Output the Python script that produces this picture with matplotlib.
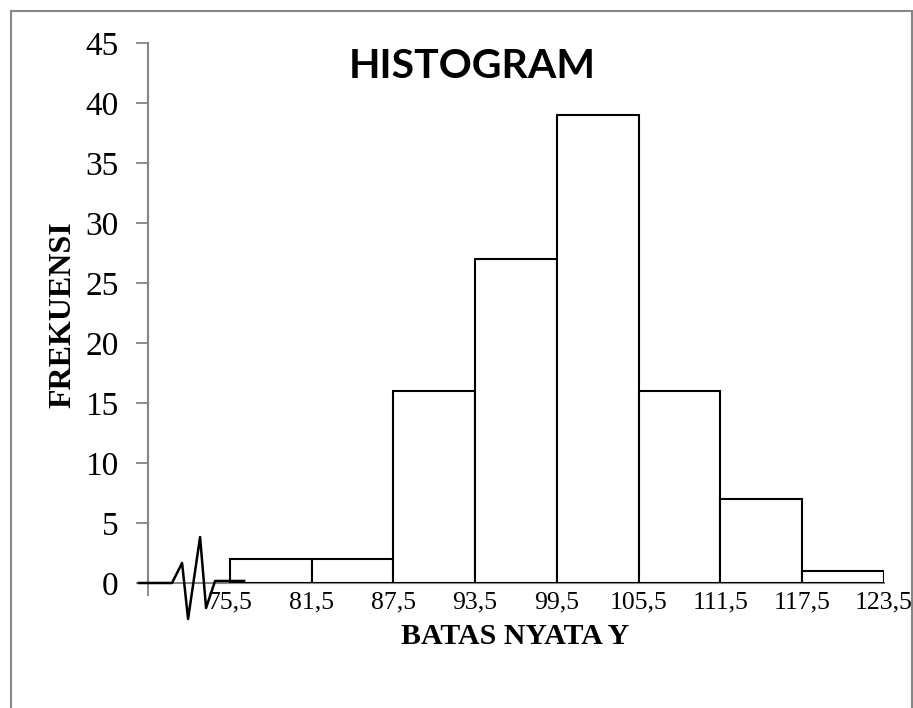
import matplotlib
matplotlib.use("Agg")
import matplotlib.pyplot as plt
from matplotlib.patches import Rectangle

# Data
bin_edges = [75.5, 81.5, 87.5, 93.5, 99.5, 105.5, 111.5, 117.5, 123.5]
frequencies = [2, 2, 16, 27, 39, 16, 7, 1]
edge_labels = ["75,5", "81,5", "87,5", "93,5", "99,5", "105,5", "111,5", "117,5", "123,5"]
y_ticks = [0, 5, 10, 15, 20, 25, 30, 35, 40, 45]
# axis-break zigzag (data coords)
zig_x = [68.84, 71.26, 72.0, 72.44, 73.32, 73.76, 74.42, 76.55]
zig_y = [0, 0, 1.67, -3.0, 3.83, -2.08, 0.17, 0.17]

W, H = 913, 708
fig = plt.figure(figsize=(W / 100, H / 100), dpi=100)
ax = fig.add_axes([148 / W, 1 - 583 / H, (884 - 148) / W, (583 - 43) / H])

widths = [bin_edges[i + 1] - bin_edges[i] for i in range(len(frequencies))]
ax.bar(bin_edges[:-1], frequencies, width=widths, align="edge",
       color="white", edgecolor="black", linewidth=1.5, zorder=3)

ax.plot(zig_x, zig_y, color="black", linewidth=1.8, clip_on=False, zorder=4)

ax.set_xlim(69.5, 123.5)
ax.set_ylim(0, 45)

for s in ["top", "right"]:
    ax.spines[s].set_visible(False)
for s in ["left", "bottom"]:
    ax.spines[s].set_color("#868686")
    ax.spines[s].set_linewidth(1.5)

ax.set_yticks(y_ticks)
ax.set_yticklabels([str(v) for v in y_ticks], fontfamily="Liberation Serif", fontsize=24)
ax.tick_params(axis="y", direction="out", length=9, width=1.3, color="#868686", pad=12)

ax.set_xticks(bin_edges)
ax.set_xticklabels(edge_labels, fontfamily="Liberation Serif", fontsize=18.5)
ax.tick_params(axis="x", direction="out", length=0, pad=6)
ax.set_xticks([69.5], minor=True)
ax.tick_params(axis="x", which="minor", direction="out", length=9, width=1.3, color="#868686")

fig.text(472 / W, 1 - 66 / H, "HISTOGRAM", fontfamily="Lato", fontweight="bold",
         fontsize=29.5, ha="center", va="center")
fig.text(63 / W, 1 - 315 / H, "FREKUENSI", fontfamily="Liberation Serif", fontweight="bold",
         fontsize=23, ha="center", va="center", rotation=90)
fig.text(515 / W, 1 - 636 / H, "BATAS NYATA Y", fontfamily="Liberation Serif", fontweight="bold",
         fontsize=21.5, ha="center", va="center")

fig.patches.append(Rectangle((11 / W, -0.05), (912 - 11) / W, 1 - 11 / H + 0.05,
                             transform=fig.transFigure, fill=False,
                             edgecolor="#868686", linewidth=1.5))

fig.savefig("out.png", dpi=100)
